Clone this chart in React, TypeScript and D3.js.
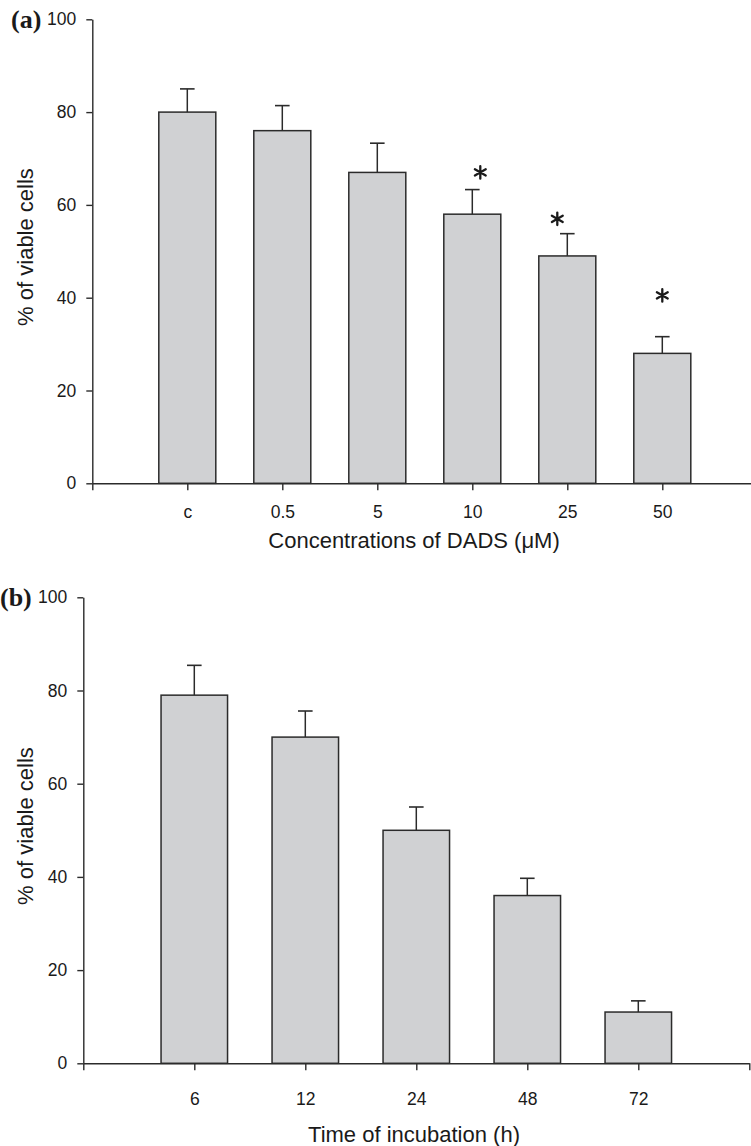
import React, { useEffect, useRef } from 'react';
import * as d3 from 'd3';

const width = 751;
const height = 1146;
const font = '"Liberation Sans", Arial, Helvetica, sans-serif';
const ink = '#2b2b2b';
const barFill = '#d0d1d3';

// panel (a): concentrations of DADS
const concLabels = ['c', '0.5', '5', '10', '25', '50'];
const concViable = [80, 76, 67, 58, 49, 28];
const concErr = [5, 5.4, 6.3, 5.3, 4.8, 3.6];
const concStars = ['10', '25', '50'];
const concStarLevel = [67, 57, 40.5];

// panel (b): time of incubation
const timeLabels = ['6', '12', '24', '48', '72'];
const timeViable = [79, 70, 50, 36, 11];
const timeErr = [6.4, 5.6, 5, 3.7, 2.4];

const yTicks = [0, 20, 40, 60, 80, 100];

// small horizontal nudges of the asterisks, as in the original figure
const starDx = { '10': 8, '25': -10, '50': 0 };

function Panel(props) {
  const { labels, values, errs, stars = [], starLevels = [], letter, xTitle,
    left, right, top, bottom, barWidth, xLabelPad, xTitleY, letterX, letterY, yTitleY } = props;
  const xAxisRef = useRef(null);
  const yAxisRef = useRef(null);

  const x = d3.scalePoint().domain(['start', ...labels, 'end']).range([left, right]);
  const y = d3.scaleLinear().domain([0, 100]).range([bottom, top]);

  useEffect(() => {
    const xAxis = d3.axisBottom(x)
      .tickSize(7)
      .tickSizeOuter(0)
      .tickPadding(xLabelPad)
      .tickFormat(d => (d === 'start' || d === 'end' ? '' : d));
    const yAxis = d3.axisLeft(y)
      .tickValues(yTicks)
      .tickSize(6)
      .tickSizeOuter(0)
      .tickPadding(10);

    const gx = d3.select(xAxisRef.current).call(xAxis);
    const gy = d3.select(yAxisRef.current).call(yAxis);
    [gx, gy].forEach(g => {
      g.attr('font-family', font).attr('font-size', 17.5);
      g.selectAll('path, line').attr('stroke', ink).attr('stroke-width', 1.4);
      g.selectAll('text').attr('fill', '#1a1a1a');
    });
  });

  const starSym = (d3 as any).symbolAsterisk
    ? d3.symbol((d3 as any).symbolAsterisk, 110)()
    : null;

  return (
    <g>
      {labels.map((lab, i) => {
        const cx = x(lab);
        const yTop = y(values[i]);
        const yCap = y(values[i] + errs[i]);
        return (
          <g key={lab}>
            <line x1={cx} x2={cx} y1={yTop} y2={yCap} stroke={ink} strokeWidth={1.5} />
            <line x1={cx - 7.3} x2={cx + 7.3} y1={yCap} y2={yCap} stroke={ink} strokeWidth={1.6} />
            <rect x={cx - barWidth / 2} y={yTop} width={barWidth} height={bottom - yTop}
              fill={barFill} stroke={ink} strokeWidth={1.5} />
          </g>
        );
      })}
      {stars.map((lab, i) => {
        const sx = x(lab) + (starDx[lab] || 0);
        const sy = y(starLevels[i]);
        return starSym ? (
          <path key={lab} d={starSym} transform={`translate(${sx},${sy})`}
            fill="none" stroke="#1a1a1a" strokeWidth={2.3} strokeLinecap="round" />
        ) : (
          <text key={lab} x={sx} y={sy + 12} textAnchor="middle" fontFamily={font}
            fontSize={26} fontWeight="bold">*</text>
        );
      })}
      <g ref={xAxisRef} transform={`translate(0,${bottom})`} />
      <g ref={yAxisRef} transform={`translate(${left},0)`} />
      <text x={414} y={xTitleY} textAnchor="middle" fontFamily={font} fontSize={22} fill="#1a1a1a">
        {xTitle}
      </text>
      <text transform={`translate(33,${yTitleY}) rotate(-90)`} textAnchor="middle"
        fontFamily={font} fontSize={22} fill="#1a1a1a">% of viable cells</text>
      <text x={letterX} y={letterY} fontFamily='"Liberation Serif", "Times New Roman", serif'
        fontWeight="bold" fontSize={26} fill="#1a1a1a">{letter}</text>
    </g>
  );
}

export default function App() {
  return (
    <svg width={width} height={height}
      style={{ position: 'absolute', left: 0, top: 0, background: '#fff' }}>
      <Panel
        labels={concLabels} values={concViable} errs={concErr}
        stars={concStars} starLevels={concStarLevel}
        letter="(a)" xTitle="Concentrations of DADS (μM)"
        left={92.3} right={757.3} top={19.3} bottom={483.3} barWidth={57}
        xLabelPad={15} xTitleY={548} letterX={11} letterY={28} yTitleY={247}
      />
      <Panel
        labels={timeLabels} values={timeViable} errs={timeErr}
        letter="(b)" xTitle="Time of incubation (h)"
        left={83.3} right={749.3} top={597.3} bottom={1063.3} barWidth={66.5}
        xLabelPad={22} xTitleY={1142} letterX={0} letterY={606} yTitleY={826}
      />
    </svg>
  );
}
